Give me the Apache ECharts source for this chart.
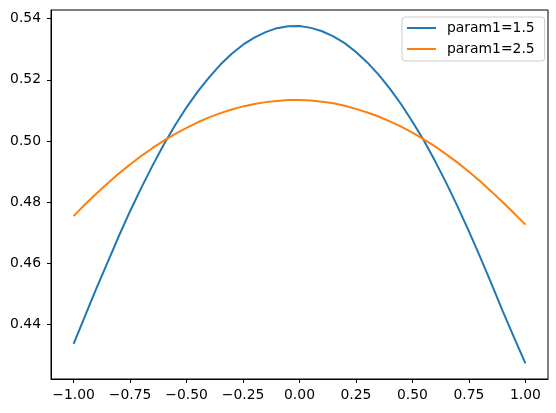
<!DOCTYPE html>
<html>
<head>
<meta charset="utf-8">
<script src="https://cdn.jsdelivr.net/npm/echarts@6/dist/echarts.min.js"></script>
<style>
  html, body { margin: 0; padding: 0; background: #fff; }
  #chart { width: 556px; height: 413px; }
</style>
</head>
<body>
<div id="chart"></div>
<script>
// values, every 0.05 along x
const xValues = [-1.00, -0.95, -0.90, -0.85, -0.80, -0.75, -0.70, -0.65, -0.60, -0.55, -0.50,
                 -0.45, -0.40, -0.35, -0.30, -0.25, -0.20, -0.15, -0.10, -0.05, 0.00,
                 0.05, 0.10, 0.15, 0.20, 0.25, 0.30, 0.35, 0.40, 0.45, 0.50,
                 0.55, 0.60, 0.65, 0.70, 0.75, 0.80, 0.85, 0.90, 0.95, 1.00];
const param15 = [0.4336, 0.4426, 0.4516, 0.4602, 0.4688, 0.4770, 0.4847, 0.4920, 0.4989, 0.5052, 0.5110,
                 0.5162, 0.5208, 0.5250, 0.5285, 0.5315, 0.5338, 0.5356, 0.5369, 0.5375, 0.5376,
                 0.5370, 0.5359, 0.5342, 0.5320, 0.5291, 0.5257, 0.5217, 0.5171, 0.5120, 0.5063,
                 0.5002, 0.4934, 0.4862, 0.4785, 0.4704, 0.4620, 0.4532, 0.4442, 0.4356, 0.4272];
const param25 = [0.4754, 0.4792, 0.4827, 0.4861, 0.4893, 0.4923, 0.4951, 0.4977, 0.5001, 0.5023, 0.5043,
                 0.5061, 0.5077, 0.5091, 0.5103, 0.5113, 0.5121, 0.5127, 0.5131, 0.5134, 0.5134,
                 0.5132, 0.5128, 0.5123, 0.5115, 0.5105, 0.5093, 0.5080, 0.5064, 0.5047, 0.5027,
                 0.5005, 0.4982, 0.4956, 0.4929, 0.4899, 0.4868, 0.4834, 0.4799, 0.4763, 0.4726];
const seriesNames = ["param1=1.5", "param1=2.5"];
const xTicks = [-1.0, -0.75, -0.5, -0.25, 0.0, 0.25, 0.5, 0.75, 1.0];
const yTicks = [0.44, 0.46, 0.48, 0.50, 0.52, 0.54];

const font = "DejaVu Sans";
const fmt = (v) => (v < -1e-9 ? "\u2212" : "") + Math.abs(v).toFixed(2);
const pair = (ys) => xValues.map((x, i) => [x, ys[i]]);

const chart = echarts.init(document.getElementById("chart"));
chart.setOption({
  animation: false,
  backgroundColor: "#ffffff",
  grid: {
    left: 51, right: 8, top: 10, bottom: 34,
    show: true, borderColor: "#000", borderWidth: 1,
  },
  legend: {
    orient: "vertical",
    left: 402, top: 17,
    padding: [4, 10, 5, 4],
    itemWidth: 29, itemHeight: 14, itemGap: 7,
    backgroundColor: "rgba(255,255,255,0.8)",
    borderColor: "#cccccc", borderWidth: 1, borderRadius: 3,
    itemStyle: { opacity: 0 },
    lineStyle: { width: 2 },
    textStyle: { fontFamily: font, fontSize: 13.9, color: "#000", padding: [0, 0, 0, 6] },
    data: seriesNames,
  },
  xAxis: {
    type: "value",
    min: -1.1, max: 1.1,
    axisLine: { show: true, onZero: false, lineStyle: { color: "#000", width: 1 } },
    axisTick: { show: true, length: 4, customValues: xTicks, lineStyle: { color: "#000" } },
    axisLabel: { customValues: xTicks, margin: 9, formatter: fmt,
                 fontFamily: font, fontSize: 13.9, color: "#000" },
    splitLine: { show: false },
  },
  yAxis: {
    type: "value",
    min: 0.42208, max: 0.54285,
    axisLine: { show: true, onZero: false, lineStyle: { color: "#000", width: 1 } },
    axisTick: { show: true, length: 4, customValues: yTicks, lineStyle: { color: "#000" } },
    axisLabel: { customValues: yTicks, margin: 10, formatter: (v) => v.toFixed(2),
                 fontFamily: font, fontSize: 13.9, color: "#000" },
    splitLine: { show: false },
  },
  series: [
    {
      name: seriesNames[0], type: "line", data: pair(param15),
      symbol: "none", color: "#1f77b4",
      lineStyle: { width: 2 },
    },
    {
      name: seriesNames[1], type: "line", data: pair(param25),
      symbol: "none", color: "#ff7f0e",
      lineStyle: { width: 2 },
    },
  ],
});
</script>
</body>
</html>
